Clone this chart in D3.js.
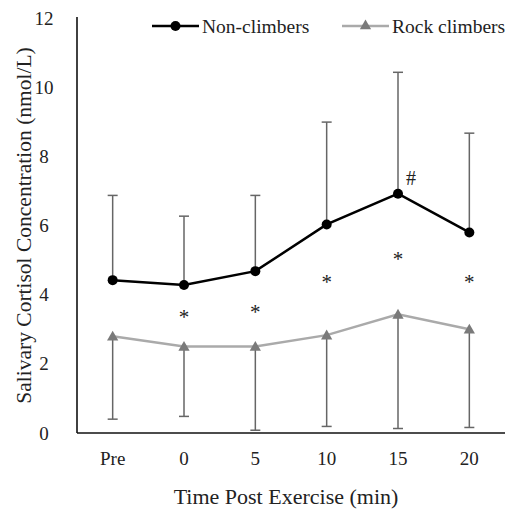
<!DOCTYPE html>
<html>
<head>
<meta charset="utf-8">
<script src="https://cdn.jsdelivr.net/npm/d3@7"></script>
<style>
  body { margin: 0; background: #fff; }
  text { font-family: "Liberation Serif", "Times New Roman", serif; fill: #222; }
</style>
</head>
<body>
<div id="chart"></div>
<script>
// données
var times = ["Pre", "0", "5", "10", "15", "20"];
var nonClimbers = [4.42, 4.28, 4.68, 6.03, 6.92, 5.80];
var nonClimbersSD = [2.45, 1.99, 2.19, 2.96, 3.51, 2.87];
var rockClimbers = [2.80, 2.50, 2.50, 2.83, 3.43, 3.00];
var rockClimbersSD = [2.40, 2.02, 2.42, 2.64, 3.30, 2.84];
var yTicks = [0, 2, 4, 6, 8, 10, 12];
// annotations : * entre les groupes, # au pic
var starTimes = ["0", "5", "10", "15", "20"];
var starValues = [3.47, 3.61, 4.48, 5.14, 4.48];
var hashTime = "15";
var hashValue = 7.37;

var width = 515, height = 512;
var margin = {left: 77, right: 10, top: 18, bottom: 79};

var svg = d3.select("#chart")
            .append("svg")
            .attr("width", width)
            .attr("height", height);

var x = d3.scaleBand()
          .domain(times)
          .range([margin.left, width - margin.right]);

var y = d3.scaleLinear()
          .domain([0, 12])
          .range([height - margin.bottom, margin.top]);

function cx(t) { return x(t) + x.bandwidth() / 2; }

// axes
svg.append("line")
   .attr("x1", margin.left).attr("x2", margin.left)
   .attr("y1", y(12) - 1).attr("y2", y(0))
   .attr("stroke", "#111").attr("stroke-width", 1.6);
svg.append("line")
   .attr("x1", margin.left).attr("x2", width - margin.right)
   .attr("y1", y(0)).attr("y2", y(0))
   .attr("stroke", "#111").attr("stroke-width", 1.6);

svg.selectAll(".ytick")
   .data(yTicks)
   .enter()
     .append("text")
     .attr("class", "ytick")
     .attr("x", 44)
     .attr("y", function(d){ return y(d); })
     .attr("dy", "0.35em")
     .attr("text-anchor", "middle")
     .style("font-size", "19px")
     .text(function(d){ return d; });

svg.selectAll(".xtick")
   .data(times)
   .enter()
     .append("text")
     .attr("class", "xtick")
     .attr("x", function(d){ return cx(d); })
     .attr("y", 465)
     .attr("text-anchor", "middle")
     .style("font-size", "19px")
     .text(function(d){ return d; });

svg.append("text")
   .attr("x", 286)
   .attr("y", 504)
   .attr("text-anchor", "middle")
   .style("font-size", "22px")
   .text("Time Post Exercise (min)");

svg.append("text")
   .attr("transform", "translate(23," + ((y(0) + y(12)) / 2) + ") rotate(-90)")
   .attr("dy", "0.35em")
   .attr("text-anchor", "middle")
   .style("font-size", "21.5px")
   .text("Salivary Cortisol Concentration (nmol/L)");

// barres d'erreur
var errColor = "#666";
var cap = 5;

function errorBars(values, sd, dir) {
  var g = svg.append("g");
  times.forEach(function(t, i) {
    var end = values[i] + dir * sd[i];
    g.append("line")
     .attr("x1", cx(t)).attr("x2", cx(t))
     .attr("y1", y(values[i])).attr("y2", y(end))
     .attr("stroke", errColor).attr("stroke-width", 1.5);
    g.append("line")
     .attr("x1", cx(t) - cap).attr("x2", cx(t) + cap)
     .attr("y1", y(end)).attr("y2", y(end))
     .attr("stroke", errColor).attr("stroke-width", 1.5);
  });
}

errorBars(nonClimbers, nonClimbersSD, 1);
errorBars(rockClimbers, rockClimbersSD, -1);

var line = d3.line()
             .x(function(d, i){ return cx(times[i]); })
             .y(function(d){ return y(d); });

// grimpeurs
svg.append("path")
   .datum(rockClimbers)
   .attr("d", line)
   .attr("fill", "none")
   .attr("stroke", "#aaa")
   .attr("stroke-width", 2.5);

var tri = d3.symbol().type(d3.symbolTriangle).size(55);

svg.selectAll(".rock")
   .data(rockClimbers)
   .enter()
     .append("path")
     .attr("class", "rock")
     .attr("d", tri)
     .attr("transform", function(d, i){ return "translate(" + cx(times[i]) + "," + (y(d) + 1) + ")"; })
     .attr("fill", "#7a7a7a");

// non-grimpeurs
svg.append("path")
   .datum(nonClimbers)
   .attr("d", line)
   .attr("fill", "none")
   .attr("stroke", "#000")
   .attr("stroke-width", 2.5);

svg.selectAll(".non")
   .data(nonClimbers)
   .enter()
     .append("circle")
     .attr("class", "non")
     .attr("cx", function(d, i){ return cx(times[i]); })
     .attr("cy", function(d){ return y(d); })
     .attr("r", 5)
     .attr("fill", "#000");

// annotations
svg.selectAll(".star")
   .data(starValues)
   .enter()
     .append("text")
     .attr("class", "star")
     .attr("x", function(d, i){ return cx(starTimes[i]); })
     .attr("y", function(d){ return y(d) + 11; })
     .attr("text-anchor", "middle")
     .style("font-size", "21px")
     .text("*");

svg.append("text")
   .attr("x", cx(hashTime) + 13)
   .attr("y", y(hashValue) + 7)
   .attr("text-anchor", "middle")
   .style("font-size", "20px")
   .text("#");

// légende
var legend = [
  {label: "Non-climbers", x: 152, stroke: "#000", fill: "#000", shape: "circle"},
  {label: "Rock climbers", x: 342, stroke: "#aaa", fill: "#7a7a7a", shape: "tri"}
];

var leg = svg.selectAll(".legend")
             .data(legend)
             .enter()
               .append("g")
               .attr("class", "legend")
               .attr("transform", function(d){ return "translate(" + d.x + ",26)"; });

leg.append("line")
   .attr("x1", 0).attr("x2", 47)
   .attr("stroke", function(d){ return d.stroke; })
   .attr("stroke-width", 2.5);

leg.filter(function(d){ return d.shape == "circle"; })
   .append("circle")
   .attr("cx", 23.5).attr("r", 5).attr("fill", "#000");

leg.filter(function(d){ return d.shape == "tri"; })
   .append("path")
   .attr("d", tri)
   .attr("transform", "translate(23.5,0)")
   .attr("fill", "#7a7a7a");

leg.append("text")
   .attr("x", 50)
   .attr("dy", "0.35em")
   .style("font-size", "19.5px")
   .text(function(d){ return d.label; });
</script>
</body>
</html>
